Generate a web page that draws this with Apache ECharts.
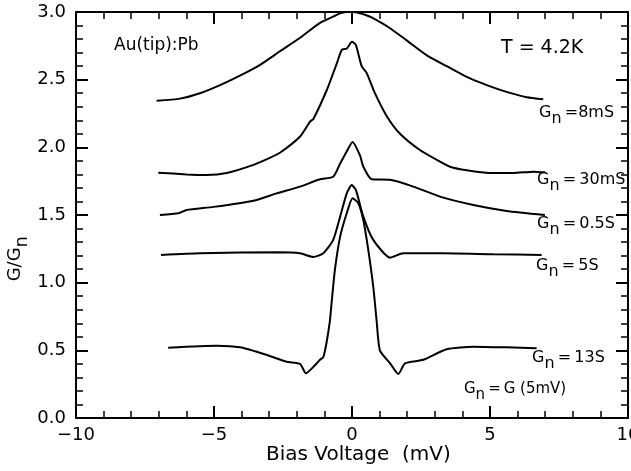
<!DOCTYPE html>
<html><head><meta charset="utf-8">
<script src="https://cdn.jsdelivr.net/npm/echarts@6/dist/echarts.min.js"></script>
<style>html,body{margin:0;padding:0;background:#fff}#c{width:631px;height:471px}</style>
</head><body><div id="c"></div>
<script>
// Bias voltage (mV) and normalised conductance G/Gn for each curve
const v8mS = [-7.08,-6.23,-5.51,-4.78,-4.06,-3.33,-2.61,-1.88,-1.16,-0.68,-0.43,-0.15,0.05,0.29,0.47,0.71,1.38,1.98,2.71,3.43,4.16,4.88,5.60,6.33,6.93];
const g8mS = [2.345,2.36,2.40,2.46,2.53,2.61,2.71,2.81,2.92,2.966,2.99,3.0,3.0,2.99,2.98,2.96,2.88,2.79,2.68,2.60,2.52,2.46,2.41,2.37,2.355];

const v30mS = [-7.02,-5.99,-5.27,-4.54,-3.57,-3.0,-2.61,-1.88,-1.52,-1.40,-0.92,-0.55,-0.37,-0.19,0.0,0.14,0.35,0.53,0.83,1.26,1.74,2.46,3.19,3.55,4.16,5.0,5.84,6.57,6.99];
const g30mS = [1.813,1.80,1.796,1.81,1.87,1.92,1.96,2.08,2.19,2.21,2.42,2.62,2.72,2.73,2.78,2.757,2.60,2.55,2.40,2.23,2.10,1.98,1.894,1.857,1.83,1.81,1.81,1.82,1.815];

const v05S = [-6.96,-6.29,-5.99,-5.02,-3.57,-2.73,-1.88,-1.16,-0.68,-0.43,-0.19,0.02,0.29,0.41,0.71,1.38,2.22,3.19,4.40,5.60,6.99];
const g05S = [1.50,1.513,1.537,1.56,1.606,1.66,1.71,1.764,1.783,1.88,1.97,2.04,1.94,1.857,1.764,1.76,1.71,1.636,1.574,1.53,1.50];

const v5S = [-6.92,-5.51,-2.61,-1.88,-1.40,-1.04,-0.68,-0.43,-0.19,-0.01,0.14,0.41,0.77,1.38,1.86,2.83,3.31,5.12,6.87];
const g5S = [1.205,1.217,1.225,1.217,1.19,1.217,1.316,1.488,1.66,1.722,1.685,1.488,1.316,1.185,1.217,1.217,1.217,1.21,1.205];

const v13S = [-6.66,-4.90,-4.06,-3.09,-2.37,-1.88,-1.67,-1.34,-1.16,-1.04,-0.92,-0.80,-0.74,-0.62,-0.43,-0.19,0.02,0.23,0.41,0.59,0.77,0.89,1.01,1.38,1.68,1.92,2.58,3.43,4.40,5.60,6.69];
const g13S = [0.52,0.534,0.522,0.466,0.416,0.40,0.33,0.39,0.43,0.45,0.56,0.72,0.848,1.094,1.34,1.513,1.624,1.587,1.463,1.242,0.97,0.724,0.50,0.404,0.325,0.404,0.43,0.508,0.527,0.522,0.515];

const xRange = [-10, 10], xStep = 5;
const yRange = [0, 3], yStep = 0.5;

const curveNames = ['8mS','30mS','0.5S','5S','13S'];
const curves = [[v8mS,g8mS],[v30mS,g30mS],[v05S,g05S],[v5S,g5S],[v13S,g13S]];

const chart = echarts.init(document.getElementById('c'));
const FONT = 'DejaVu Sans';
const tickCommon = {
  axisLine:{show:true,onZero:false,lineStyle:{color:'#000',width:2}},
  axisTick:{show:true,inside:true,length:12,lineStyle:{color:'#000',width:2}},
  minorTick:{show:true,splitNumber:5,length:7,lineStyle:{color:'#000',width:1.5}},
  splitLine:{show:false}, minorSplitLine:{show:false}
};
function xAx(pos, labels){
  return Object.assign({type:'value',min:xRange[0],max:xRange[1],interval:xStep,position:pos,
    axisLabel:{show:labels,color:'#000',fontSize:18,fontFamily:FONT,margin:8,
      formatter:v=>String(v).replace('-','\u2212')}}, tickCommon);
}
function yAx(pos, labels){
  return Object.assign({type:'value',min:yRange[0],max:yRange[1],interval:yStep,position:pos,
    axisLabel:{show:labels,color:'#000',fontSize:18,fontFamily:FONT,margin:10,formatter:v=>v.toFixed(1)}}, tickCommon);
}
function rich(size, drop){
  return {
    g:{fontSize:size,fontFamily:FONT,color:'#000',verticalAlign:'top',lineHeight:size+2},
    n:{fontSize:size,fontFamily:FONT,color:'#000',verticalAlign:'top',lineHeight:size+2,padding:[drop,0,0,0]}
  };
}
function gnLabel(x,y,rest,size){
  return {type:'text',left:x,top:y,style:{text:'{g|G}{n|n}{g|'+rest+'}',rich:rich(size||16,6)}};
}
const T = '\u2009';
chart.setOption({
  animation:false,
  backgroundColor:'#fff',
  grid:{left:76,right:3,top:12,bottom:53,containLabel:false,outerBoundsMode:'none'},
  xAxis:[xAx('bottom',true), xAx('top',false)],
  yAxis:[yAx('left',true), yAx('right',false)],
  series: curves.map((c,i)=>({
    name:curveNames[i], type:'line', xAxisIndex:0, yAxisIndex:0,
    showSymbol:false, symbol:'none', smooth:0.2,
    lineStyle:{color:'#000',width:2},
    data:c[0].map((v,k)=>[v,c[1][k]])
  })),
  graphic:[
    {type:'text',left:114,top:37,style:{text:'Au(tip):Pb',font:'17px "DejaVu Sans"',fill:'#000'}},
    {type:'text',left:501,top:39,style:{text:'T = 4.2K',font:'19px "DejaVu Sans"',fill:'#000'}},
    gnLabel(539,105,T+'=8mS'),
    gnLabel(537,172,T+'='+T+'30mS'),
    gnLabel(537,216,T+'='+T+'0.5S'),
    gnLabel(536,258,T+'='+T+'5S'),
    gnLabel(532,350,T+'='+T+'13S'),
    gnLabel(464,382,T+'='+T+'G (5mV)',15),
    {type:'text',left:266,top:445,style:{text:'Bias Voltage  (mV)',font:'20px "DejaVu Sans"',fill:'#000'}},
    {type:'text',left:6,top:236,rotation:Math.PI/2,
      style:{text:'{g|G/G}{n|n}',rich:rich(18,7)}}
  ]
});
</script></body></html>
